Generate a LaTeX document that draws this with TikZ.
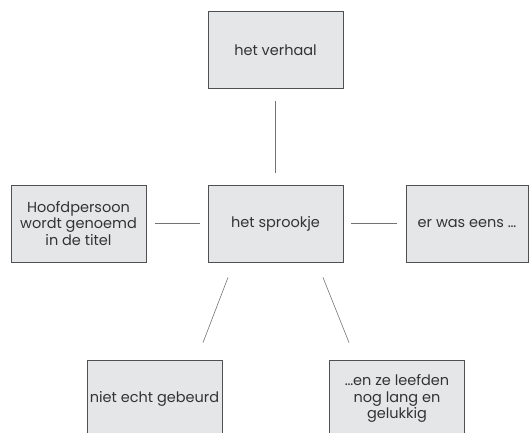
\documentclass[tikz,border=0pt]{standalone}
\usepackage{fontspec}
\setmainfont{Poppins}
\usetikzlibrary{calc}
\definecolor{vakgrijs}{RGB}{229,230,232}
\definecolor{randgrijs}{RGB}{80,80,82}

\begin{document}
\begin{tikzpicture}[x=1pt,y=-1pt,
    vak/.style={draw=randgrijs,fill=vakgrijs,line width=.9pt,
      minimum width=135pt,minimum height=77pt,inner sep=1pt,
      align=center,font=\fontsize{14.5}{16.7}\selectfont,text=black!80},
    lijn/.style={draw=black!55,line width=.6pt}]
      \useasboundingbox (0,0) rectangle (529,432);
      \node[vak] (verhaal) at (275.5,50) {het verhaal};
      \node[vak] (sprookje) at (275.5,223.5) {het sprookje};
      \node[vak] (titel) at (78.5,223.5) {Hoofdpersoon\\wordt genoemd\\in de titel};
      \node[vak,minimum width=122pt] (eens) at (467,223.5) {er was eens \dots};
      \node[vak] (gebeurd) at (154.5,398.5) {niet echt gebeurd};
      \node[vak] (gelukkig) at (397,398.5) {\dots en ze leefden\\nog lang en\\gelukkig};
      \draw[lijn,shorten <=12pt,shorten >=12pt] (verhaal) -- (sprookje);
      \draw[lijn,shorten <=9pt,shorten >=8pt] (titel) -- (sprookje);
      \draw[lijn,shorten <=8pt,shorten >=9pt] (sprookje) -- (eens);
      \draw[lijn] ([xshift=-47.5pt,yshift=-15pt]sprookje.south) -- ([xshift=48.5pt,yshift=17pt]gebeurd.north);
      \draw[lijn] ([xshift=47.5pt,yshift=-15pt]sprookje.south) -- ([xshift=-48pt,yshift=17pt]gelukkig.north);
\end{tikzpicture}
\end{document}
